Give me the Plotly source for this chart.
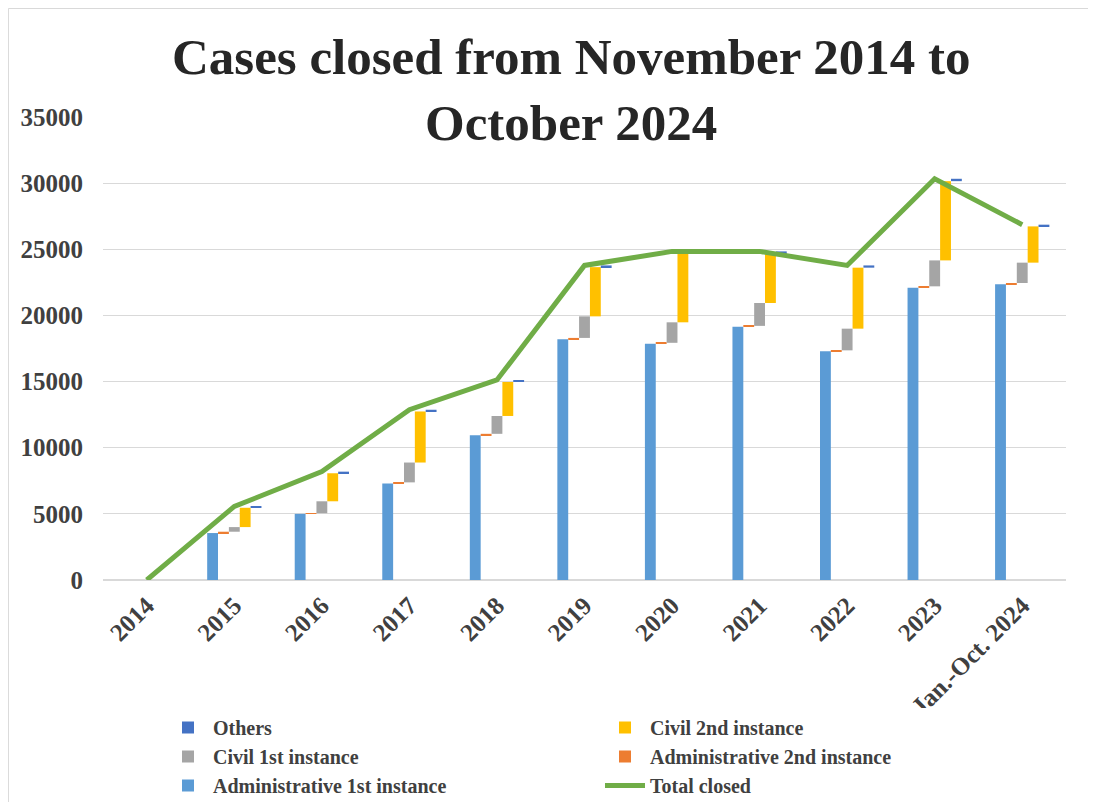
import numpy as np
import plotly.graph_objects as go

categories = ["2014", "2015", "2016", "2017", "2018", "2019", "2020", "2021", "2022", "2023", "Jan.-Oct. 2024"]
admin_1st = [0, 3550, 5000, 7300, 10950, 18200, 17850, 19150, 17300, 22100, 22350]
admin_2nd = [0, 100, 50, 80, 100, 100, 80, 60, 60, 100, 100]
civil_1st = [0, 350, 900, 1500, 1350, 1630, 1550, 1730, 1640, 1960, 1540]
civil_2nd = [0, 1460, 2120, 3860, 2570, 3720, 5210, 3700, 4610, 5990, 2740]
others = [0, 100, 120, 130, 150, 130, 150, 200, 170, 180, 130]
total_closed = [0, 5560, 8190, 12870, 15120, 23780, 24840, 24840, 23780, 30330, 26860]
y_ticks = [0, 5000, 10000, 15000, 20000, 25000, 30000, 35000]

a1 = np.array(admin_1st)
a2 = np.array(admin_2nd)
c1 = np.array(civil_1st)
c2 = np.array(civil_2nd)
ot = np.array(others)

base_a2 = a1
base_c1 = a1 + a2
base_c2 = base_c1 + c1
base_ot = base_c2 + c2

fig = go.Figure()
fig.add_trace(go.Bar(x=categories, y=a1, name="<b>Administrative 1st instance</b>",
                     marker_color="#5b9bd5", legendrank=5))
fig.add_trace(go.Bar(x=categories, y=a2, base=base_a2, name="<b>Administrative 2nd instance</b>",
                     marker_color="#ed7d31", legendrank=4))
fig.add_trace(go.Bar(x=categories, y=c1, base=base_c1, name="<b>Civil 1st instance</b>",
                     marker_color="#a5a5a5", legendrank=3))
fig.add_trace(go.Bar(x=categories, y=c2, base=base_c2, name="<b>Civil 2nd instance</b>",
                     marker_color="#ffc000", legendrank=2))
fig.add_trace(go.Bar(x=categories, y=ot, base=base_ot, name="<b>Others</b>",
                     marker_color="#4472c4", legendrank=1))
fig.add_trace(go.Scatter(x=categories, y=total_closed, name="<b>Total closed</b>", mode="lines",
                         line=dict(color="#70ad47", width=5), legendrank=6))

fig.update_traces(selector=dict(type="bar"), marker_line_width=0)

font_family = "Liberation Serif"
W, H = 1088, 794
fig.update_layout(
    width=W, height=H,
    paper_bgcolor="white", plot_bgcolor="white",
    barmode="group", bargap=0.38, bargroupgap=0,
    margin=dict(l=95, r=30, t=109, b=222, autoexpand=False),
    font=dict(family=font_family, color="#404040"),
    showlegend=True,
    legend=dict(orientation="h", x=0.0623, xanchor="left",
                y=1 - 700 / H, yanchor="top", yref="container",
                entrywidth=382, entrywidthmode="pixels", traceorder="normal",
                font=dict(family=font_family, size=20, color="#404040"),
                tracegroupgap=0, itemwidth=40),
    annotations=[dict(text="<b>Cases closed from November 2014 to<br>October 2024</b>",
                      font=dict(family=font_family, size=51, color="#262626"),
                      x=(571 - 103) / 963, xref="paper", xanchor="center",
                      y=(580 - 90) / 463, yref="paper", yanchor="middle",
                      showarrow=False)],
    shapes=[dict(type="rect", xref="paper", yref="paper",
                 x0=-0.0982, x1=1.2, y0=-0.6, y1=(572 - 0.5) / 463,
                 line=dict(color="#d9d9d9", width=1), layer="below")],
)
fig.update_xaxes(type="category", tickangle=-45, showgrid=False,
                 showline=True, linecolor="#d9d9d9", linewidth=1,
                 tickfont=dict(family=font_family, size=25, color="#404040"),
                 ticks="", ticklabelstandoff=0, automargin=False,
                 tickvals=categories, ticktext=["<b>%s</b>" % c for c in categories])
fig.update_yaxes(range=[0, 35000], showgrid=True, gridcolor="#d9d9d9", gridwidth=1,
                 zeroline=True, zerolinecolor="#d9d9d9",
                 tickfont=dict(family=font_family, size=25, color="#404040"),
                 ticks="", ticklabelstandoff=19, automargin=False,
                 tickvals=y_ticks, ticktext=["<b>%d</b>" % v for v in y_ticks])

fig.write_html("out.html")
